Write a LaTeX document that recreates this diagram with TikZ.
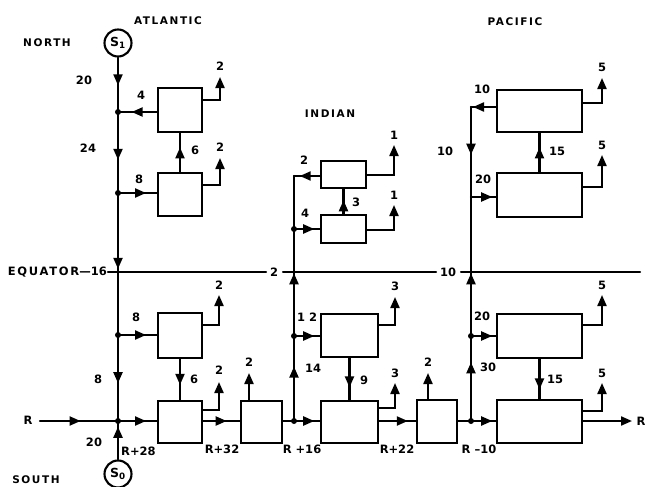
\documentclass[tikz,border=0pt]{standalone}
\usepackage{fontspec}
\setmainfont{DejaVu Sans}
\newfontfamily\spaced{DejaVu Sans}[LetterSpace=15]
\usetikzlibrary{arrows.meta,decorations.markings}
\tikzset{
  ln/.style={line width=2.1pt, line cap=round},
  box/.style={draw, line width=2.1pt, inner sep=0pt},
  marr/.style={ln, postaction={decorate},
    decoration={markings, mark=at position #1 with {\arrow{Triangle[length=11pt,width=9pt]}}}},
  outarr/.style={line width=2.1pt, -{Triangle[length=11pt,width=9pt]}},
  jdot/.style={circle, fill, inner sep=0pt, minimum size=6pt},
  lbl/.style={inner sep=0pt, font=\bfseries\fontsize{11.5}{12}\selectfont},
  word/.style={inner sep=0pt, font=\spaced\bfseries\fontsize{10.5}{12}\selectfont},
  src/.style={draw, circle, line width=2.1pt, minimum size=27pt, inner sep=0pt,
    font=\bfseries\fontsize{12.5}{13}\selectfont}
}
\begin{document}
\begin{tikzpicture}[x=1pt,y=-1pt]
\useasboundingbox (0,0) rectangle (645,487);
% sources
\node[src] (s1) at (118,43) {S\textsubscript{1}};
\node[src] (s0) at (118,474) {S\textsubscript{0}};
% boxes
\node[box, minimum width=44pt, minimum height=44pt] (a1) at (180,110) {};
\node[box, minimum width=44pt, minimum height=43pt] (a2) at (180,194.5) {};
\node[box, minimum width=44pt, minimum height=45pt] (a3) at (180,335.5) {};
\node[box, minimum width=44pt, minimum height=42pt] (a4) at (180,422) {};
\node[box, minimum width=41pt, minimum height=42pt] (a5) at (261.5,422) {};
\node[box, minimum width=45pt, minimum height=27pt] (i1) at (343.5,174.5) {};
\node[box, minimum width=45pt, minimum height=28pt] (i2) at (343.5,229) {};
\node[box, minimum width=57pt, minimum height=43pt] (i3) at (349.5,335.5) {};
\node[box, minimum width=57pt, minimum height=42pt] (i4) at (349.5,422) {};
\node[box, minimum width=40pt, minimum height=43pt] (i5) at (437,421.5) {};
\node[box, minimum width=85pt, minimum height=42pt] (p1) at (539.5,111) {};
\node[box, minimum width=85pt, minimum height=44pt] (p2) at (539.5,195) {};
\node[box, minimum width=85pt, minimum height=44pt] (p3) at (539.5,336) {};
\node[box, minimum width=85pt, minimum height=43pt] (p4) at (539.5,421.5) {};
% junctions
\coordinate (jA1) at (118,112);
\coordinate (jA2) at (118,193);
\coordinate (jAE) at (118,272);
\coordinate (jA3) at (118,335);
\coordinate (jA4) at (118,421);
\coordinate (iC) at (294,176);
\coordinate (jI1) at (294,229);
\coordinate (jIE) at (294,272);
\coordinate (jI2) at (294,336);
\coordinate (jI3) at (294,421);
\coordinate (pC) at (471,107);
\coordinate (jP1) at (471,197);
\coordinate (jPE) at (471,272);
\coordinate (jP2) at (471,336);
\coordinate (jP3) at (471,421);
\coordinate (rin) at (40,421);
\coordinate (rout) at (632,421);
% equator
\coordinate (e0) at (108,272);
\coordinate (e1) at (266,272);
\coordinate (e2) at (283,272);
\coordinate (e3) at (436,272);
\coordinate (e4) at (461,272);
\coordinate (e5) at (640,272);
\draw[ln] (e0) -- (e1);
\draw[ln] (e2) -- (e3);
\draw[ln] (e4) -- (e5);
% Atlantic
\draw[marr=0.51] (s1) -- (jA1);
\draw[marr=0.59] (jA1) -- (jA2);
\draw[marr=0.96] (jA2) -- (jAE);
\draw[ln] (jAE) -- (jA3);
\draw[marr=0.56] (jA3) -- (jA4);
\draw[marr=0.85] (s0) -- (jA4);
\draw[marr=0.52] (rin) -- (jA4);
\draw[marr=0.65] (a1.west |- jA1) -- (jA1);
\draw[marr=0.72] (jA2) -- (a2.west |- jA2);
\draw[marr=0.72] (jA3) -- (a3.west |- jA3);
\draw[marr=0.72] (jA4) -- (a4.west |- jA4);
\draw[marr=0.63] (a2.north) -- (a1.south);
\draw[marr=0.63] (a3.south) -- (a4.north);
\draw[marr=0.64] (a4.east |- jA4) -- (a5.west |- jA4);
\draw[ln] (a5.east |- jI3) -- (jI3);
% Indian
\draw[marr=0.78] (i1.west |- iC) -- (iC);
\draw[ln] (iC) -- (jI1);
\draw[ln] (jI1) -- (jIE);
\draw[marr=0.98] (jI2) -- (jIE);
\draw[marr=0.64] (jI3) -- (jI2);
\draw[marr=0.78] (jI1) -- (i2.west |- jI1);
\draw[marr=0.78] (jI2) -- (i3.west |- jI2);
\draw[marr=0.78] (jI3) -- (i4.west |- jI3);
\draw[marr=0.55] (i2.north) -- (i1.south);
\draw[marr=0.70] (i3.south) -- (i4.north);
\draw[marr=0.78] (i4.east |- jI3) -- (i5.west |- jI3);
\draw[ln] (i5.east |- jP3) -- (jP3);
% Pacific
\draw[marr=0.92] (p1.west |- pC) -- (pC);
\draw[marr=0.53] (pC) -- (jP1);
\draw[ln] (jP1) -- (jPE);
\draw[marr=0.98] (jP2) -- (jPE);
\draw[marr=0.69] (jP3) -- (jP2);
\draw[marr=0.85] (jP1) -- (p2.west |- jP1);
\draw[marr=0.85] (jP2) -- (p3.west |- jP2);
\draw[marr=0.85] (jP3) -- (p4.west |- jP3);
\draw[marr=0.63] (p2.north) -- (p1.south);
\draw[marr=0.76] (p3.south) -- (p4.north);
\draw[outarr] (p4.east |- jP3) -- (rout);
% outputs
\coordinate (eA1) at (220,100); \coordinate (tA1) at (220,77);
\coordinate (eA2) at (220,185); \coordinate (tA2) at (220,158);
\coordinate (eA3) at (219,325); \coordinate (tA3) at (219,295);
\coordinate (eA4) at (219,410); \coordinate (tA4) at (219,382);
\coordinate (tA5) at (249,373);
\coordinate (eI1) at (394,175); \coordinate (tI1) at (394,145);
\coordinate (eI2) at (394,230); \coordinate (tI2) at (394,205);
\coordinate (eI3) at (395,325); \coordinate (tI3) at (395,297);
\coordinate (eI4) at (395,408); \coordinate (tI4) at (395,383);
\coordinate (tI5) at (428,373);
\coordinate (eP1) at (602,103); \coordinate (tP1) at (602,78);
\coordinate (eP2) at (602,187); \coordinate (tP2) at (602,155);
\coordinate (eP3) at (602,325); \coordinate (tP3) at (602,295);
\coordinate (eP4) at (602,411); \coordinate (tP4) at (602,383);
\draw[outarr] (a1.east |- eA1) -- (eA1) -- (tA1);
\draw[outarr] (a2.east |- eA2) -- (eA2) -- (tA2);
\draw[outarr] (a3.east |- eA3) -- (eA3) -- (tA3);
\draw[outarr] (a4.east |- eA4) -- (eA4) -- (tA4);
\draw[outarr] (tA5 |- a5.north) -- (tA5);
\draw[outarr] (i1.east |- eI1) -- (eI1) -- (tI1);
\draw[outarr] (i2.east |- eI2) -- (eI2) -- (tI2);
\draw[outarr] (i3.east |- eI3) -- (eI3) -- (tI3);
\draw[outarr] (i4.east |- eI4) -- (eI4) -- (tI4);
\draw[outarr] (tI5 |- i5.north) -- (tI5);
\draw[outarr] (p1.east |- eP1) -- (eP1) -- (tP1);
\draw[outarr] (p2.east |- eP2) -- (eP2) -- (tP2);
\draw[outarr] (p3.east |- eP3) -- (eP3) -- (tP3);
\draw[outarr] (p4.east |- eP4) -- (eP4) -- (tP4);
% dots
\foreach \j in {jA1,jA2,jA3,jA4,jI1,jI2,jI3,jP2,jP3}
  \node[jdot] (d\j) at (\j) {};
% words
\node[word] (wN) at (47,43) {NORTH};
\node[word] (wS) at (36,480) {SOUTH};
\node[word] (wA) at (168,21) {ATLANTIC};
\node[word] (wI) at (330,114) {INDIAN};
\node[word] (wP) at (515,22) {PACIFIC};
\node[lbl, anchor=east] (wE) at (107,272) {{\spaced EQUATOR}—16};
% numbers
\node[lbl] (l1) at (84,80) {20};
\node[lbl] (l2) at (141,95) {4};
\node[lbl] (l3) at (88,148) {24};
\node[lbl] (l4) at (195,150) {6};
\node[lbl] (l5) at (139,179) {8};
\node[lbl] (l6) at (136,317) {8};
\node[lbl] (l7) at (98,379) {8};
\node[lbl] (l8) at (194,379) {6};
\node[lbl] (l9) at (28,420) {R};
\node[lbl] (l10) at (94,442) {20};
\node[lbl, anchor=west] (l11) at (121,451) {R+28};
\node[lbl] (l12) at (222,449) {R+32};
\node[lbl] (l13) at (302,449) {R +16};
\node[lbl] (l14) at (397,449) {R+22};
\node[lbl] (l15) at (479,449) {R –10};
\node[lbl] (l16) at (641,421) {R};
\node[lbl] (l17) at (274,272) {2};
\node[lbl] (l18) at (448,272) {10};
\node[lbl] (l19) at (304,160) {2};
\node[lbl] (l20) at (356,202) {3};
\node[lbl] (l21) at (305,213) {4};
\node[lbl] (l22) at (307,317) {1 2};
\node[lbl] (l23) at (313,368) {14};
\node[lbl] (l24) at (364,380) {9};
\node[lbl] (l25) at (482,89) {10};
\node[lbl] (l26) at (445,151) {10};
\node[lbl] (l27) at (557,151) {15};
\node[lbl] (l28) at (483,179) {20};
\node[lbl] (l29) at (482,316) {20};
\node[lbl] (l30) at (488,367) {30};
\node[lbl] (l31) at (555,379) {15};
% output labels
\node[lbl] (o1) at (220,66) {2};
\node[lbl] (o2) at (220,147) {2};
\node[lbl] (o3) at (219,285) {2};
\node[lbl] (o4) at (219,370) {2};
\node[lbl] (o5) at (249,362) {2};
\node[lbl] (o6) at (394,135) {1};
\node[lbl] (o7) at (394,195) {1};
\node[lbl] (o8) at (395,286) {3};
\node[lbl] (o9) at (395,373) {3};
\node[lbl] (o10) at (428,362) {2};
\node[lbl] (o11) at (602,67) {5};
\node[lbl] (o12) at (602,145) {5};
\node[lbl] (o13) at (602,285) {5};
\node[lbl] (o14) at (602,373) {5};
\end{tikzpicture}
\end{document}
